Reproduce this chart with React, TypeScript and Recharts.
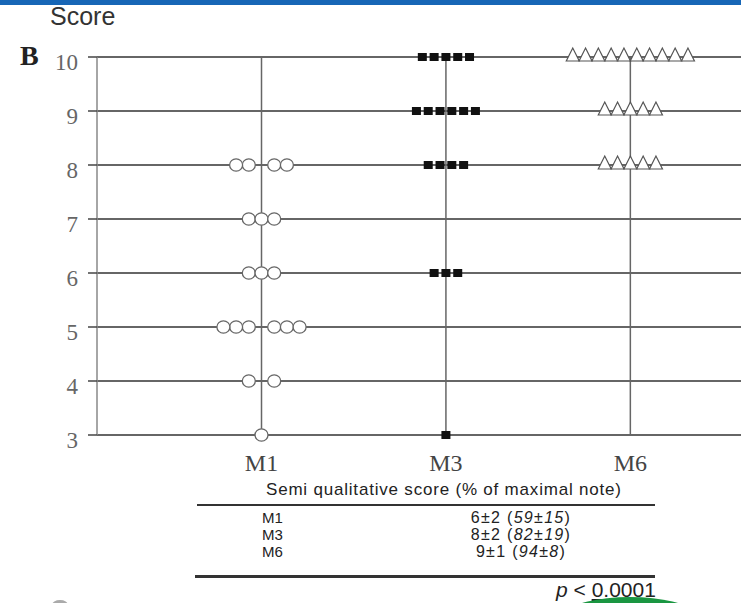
import React from "react";
import { ScatterChart, Scatter, XAxis, YAxis, CartesianGrid, ReferenceLine } from "recharts";

const GROUPS = ["M1", "M3", "M6"];
const SCORE_TICKS = [3, 4, 5, 6, 7, 8, 9, 10];

// score level -> number of patients at that level
const M1_SCORES = [3, 4, 5, 6, 7, 8];
const M1_COUNTS = [1, 2, 6, 3, 3, 4];
const M3_SCORES = [3, 6, 8, 9, 10];
const M3_COUNTS = [1, 3, 4, 6, 5];
const M6_SCORES = [8, 9, 10];
const M6_COUNTS = [5, 5, 10];

const TABLE_ROWS = ["M1", "M3", "M6"];
const TABLE_MEAN = ["6±2", "8±2", "9±1"];
const TABLE_PCT = ["59±15", "82±19", "94±8"];

const toRows = (g: number, scores: number[], counts: number[]) =>
  scores.map((s, i) => ({ x: g, y: s, n: counts[i] }));

const m1Data = toRows(0, M1_SCORES, M1_COUNTS);
const m3Data = toRows(1, M3_SCORES, M3_COUNTS);
const m6Data = toRows(2, M6_SCORES, M6_COUNTS);

// offsets of n markers around the center line
const offsets = (n: number, step: number, split: boolean) => {
  const out: number[] = [];
  if (split && n % 2 === 0) {
    for (let k = 1; k <= n / 2; k++) { out.push(-k * step); out.push(k * step); }
  } else {
    for (let i = 0; i < n; i++) out.push((i - (n - 1) / 2) * step);
  }
  return out;
};

const Circles = (p: any) => (
  <g>
    {offsets(p.payload.n, 12.7, true).map((o, i) => (
      <ellipse key={i} cx={p.cx + o} cy={p.cy} rx={6.5} ry={6.2} fill="#fff" stroke="#666" strokeWidth={1.3} />
    ))}
  </g>
);

const Squares = (p: any) => (
  <g>
    {offsets(p.payload.n, 11.8, false).map((o, i) => (
      <rect key={i} x={p.cx + o - 4.5} y={p.cy - 4} width={9} height={8} fill="#111" />
    ))}
  </g>
);

const Triangles = (p: any) => (
  <g>
    {offsets(p.payload.n, 12.8, false).map((o, i) => {
      const x = p.cx + o;
      return (
        <polygon key={i} points={`${x - 6.5},${p.cy + 4} ${x},${p.cy - 9} ${x + 6.5},${p.cy + 4}`}
          fill="#fff" stroke="#555" strokeWidth={1.2} />
      );
    })}
  </g>
);

const YTick = ({ x, y, payload }: any) => (
  <text x={x} y={y + 5} textAnchor="end" dominantBaseline="central" fontSize={23} fill="#666"
    fontFamily="'Liberation Serif', serif">{payload.value}</text>
);

const XTick = ({ x, y, payload }: any) => (
  <text x={x} y={y + 10} textAnchor="middle" dominantBaseline="central" fontSize={24} fill="#444"
    fontFamily="'Liberation Serif', serif">{GROUPS[payload.value] ?? ""}</text>
);

const txt: React.CSSProperties = { position: "absolute", fontFamily: "'Liberation Sans', Arial, sans-serif", color: "#222", whiteSpace: "nowrap" };

export default function App() {
  return (
    <div style={{ position: "absolute", left: 0, top: 0, width: 741, height: 603, background: "#fff", overflow: "hidden" }}>
      <div style={{ position: "absolute", left: 0, top: 0, width: 741, height: 5, background: "#1766b6" }} />
      <div style={{ ...txt, left: 50, top: 2, fontSize: 25, lineHeight: "28px", color: "#333" }}>Score</div>
      <div style={{ ...txt, left: 20, top: 40, fontSize: 28, lineHeight: "32px", fontWeight: "bold", fontFamily: "'Liberation Serif', serif", color: "#222" }}>B</div>

      <div style={{ position: "absolute", left: 0, top: 0 }}>
        <ScatterChart width={741} height={480} margin={{ top: 57, right: 0, left: 57, bottom: 5 }}>
          <CartesianGrid horizontal vertical={false} stroke="#333" strokeWidth={1.7} />
          <XAxis type="number" dataKey="x" domain={[-0.892, 2.6]} ticks={[0, 1, 2]} allowDataOverflow
            axisLine={false} tickLine={false} tickSize={8} tickMargin={10} height={40} tick={<XTick />} />
          <YAxis type="number" dataKey="y" domain={[3, 10]} ticks={SCORE_TICKS} width={40}
            axisLine={{ stroke: "#888", strokeWidth: 1.5 }} tickLine={{ stroke: "#444", strokeWidth: 1.5 }} tickSize={9} tickMargin={10}
            tick={<YTick />} />
          {GROUPS.map((g, i) => (
            <ReferenceLine key={g} x={i} stroke="#666" strokeWidth={1.5} />
          ))}
          <Scatter data={m1Data} shape={Circles} isAnimationActive={false} />
          <Scatter data={m3Data} shape={Squares} isAnimationActive={false} />
          <Scatter data={m6Data} shape={Triangles} isAnimationActive={false} />
        </ScatterChart>
      </div>

      <div style={{ ...txt, left: 266, top: 480, fontSize: 17, lineHeight: "20px", letterSpacing: 0.8 }}>Semi qualitative score (% of maximal note)</div>
      <div style={{ position: "absolute", left: 197, top: 504, width: 458, height: 1.5, background: "#333" }} />
      {TABLE_ROWS.map((r, i) => (
        <React.Fragment key={r}>
          <div style={{ ...txt, left: 262, top: 510 + i * 17, fontSize: 15, lineHeight: "15px" }}>{r}</div>
          <div style={{ ...txt, left: 420, width: 202, textAlign: "center", top: 510 + i * 17, fontSize: 16, lineHeight: "15px", letterSpacing: 1.3 }}>
            {TABLE_MEAN[i]} (<i>{TABLE_PCT[i]}</i>)
          </div>
        </React.Fragment>
      ))}
      <div style={{ position: "absolute", left: 195, top: 575, width: 460, height: 2.5, background: "#333" }} />
      <div style={{ ...txt, left: 556, top: 578, fontSize: 21, lineHeight: "24px" }}>
        <i>p</i> &lt; <span style={{ textDecoration: "underline" }}>0.0001</span>
      </div>
      <div style={{ position: "absolute", left: 570, top: 597, width: 120, height: 30, borderRadius: "50%", background: "#1a9641" }} />
      <div style={{ position: "absolute", left: 52, top: 600, width: 16, height: 10, borderRadius: "50%", background: "#aaa" }} />
    </div>
  );
}
